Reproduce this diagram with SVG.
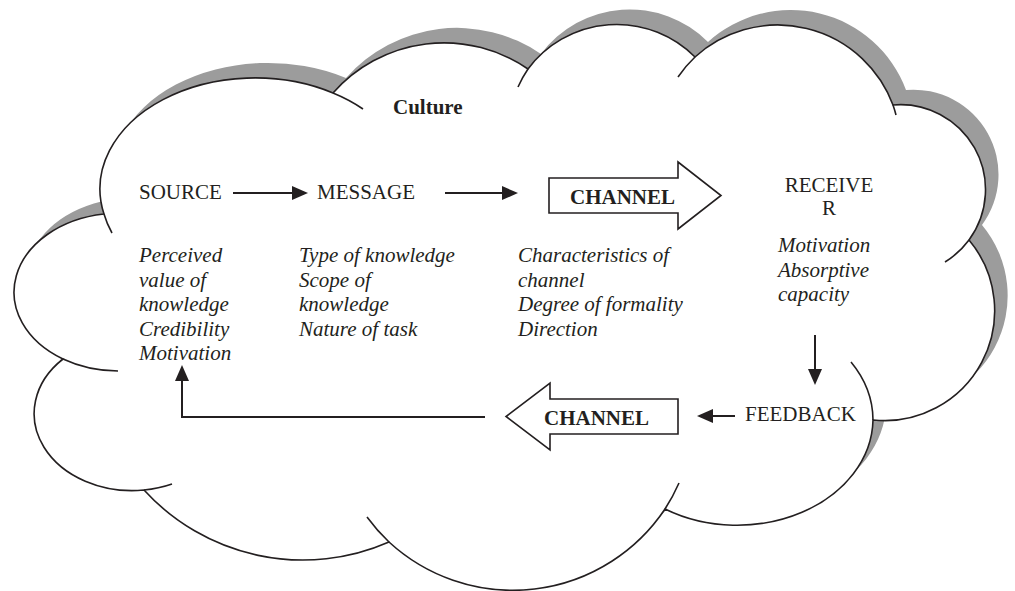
<svg xmlns="http://www.w3.org/2000/svg" width="1015" height="591" viewBox="0 0 1015 591">
  <defs>
    <marker id="head" viewBox="0 0 16 14" refX="12" refY="7" markerWidth="16" markerHeight="14" markerUnits="userSpaceOnUse" orient="auto">
      <path d="M0,0 L16,7 L0,14 z" fill="#231f20"/>
    </marker>
    <!-- cloud outline: eleven bumps traced counter-clockwise -->
    <path id="cloudShape" d="M333,93 A155,111 0 0 0 104,214 A105,79 0 0 0 63,359 A98,77 0 0 0 144,490 A215,215 0 0 0 389,542 A183,183 0 0 0 665,509 A136,107 0 0 0 873,420 A110,110 0 0 0 969,240 A85,85 0 0 0 893,105 A123,123 0 0 0 695,57 A110.5,110.5 0 0 0 528,69 A148,148 0 0 0 333,93 Z"/>
  </defs>
  <style>
    .t{font-family:"Liberation Serif","Times New Roman",serif;font-size:21px;fill:#231f20}
    .i{font-style:italic}
    .b{font-weight:bold}
    .edge{stroke:#231f20;stroke-width:2;fill:none}
    .outline{fill:#fff;stroke:#231f20;stroke-width:1.6}
    .hint{fill:none;stroke:#231f20;stroke-width:1.6}
    .block{fill:#fff;stroke:#231f20;stroke-width:1.6;stroke-linejoin:miter}
  </style>
  <rect width="1015" height="591" fill="#fff"/>

  <g id="culture">
    <use href="#cloudShape" transform="translate(13,-15)" fill="#9c9c9c"/>
    <use href="#cloudShape" class="outline"/>
    <!-- inner tails of the bump arcs -->
    <path class="hint" d="M333,93 A155,111 0 0 1 363,109 M104,214 A155,111 0 0 0 112,233 M63,359 A105,79 0 0 0 118,371 M144,490 A98,77 0 0 0 172,484 M389,542 A183,183 0 0 1 367,517 M665,509 A183,183 0 0 0 679,483 M873,420 A136,107 0 0 0 851,362 M969,240 A85,85 0 0 1 945,262 M893,105 A123,123 0 0 1 896,115 M695,57 A123,123 0 0 0 678,77 M528,69 A110.5,110.5 0 0 0 518,87"/>
    <text class="t b" x="393" y="114">Culture</text>
  </g>

  <g id="source">
    <text class="t" x="139" y="199">SOURCE</text>
    <text class="t i" x="139" y="262">Perceived<tspan x="139" dy="24.5">value of</tspan><tspan x="139" dy="24.5">knowledge</tspan><tspan x="139" dy="24.5">Credibility</tspan><tspan x="139" dy="24.5">Motivation</tspan></text>
  </g>

  <g id="message">
    <text class="t" x="317" y="199">MESSAGE</text>
    <text class="t i" x="299" y="262">Type of knowledge<tspan x="299" dy="24.5">Scope of</tspan><tspan x="299" dy="24.5">knowledge</tspan><tspan x="299" dy="24.5">Nature of task</tspan></text>
  </g>

  <g id="channel-out">
    <polygon class="block" points="549,178 678,178 678,162 721,195.5 678,229 678,213 549,213"/>
    <text class="t b" x="570" y="204">CHANNEL</text>
    <text class="t i" x="518" y="262">Characteristics of<tspan x="518" dy="24.5">channel</tspan><tspan x="518" dy="24.5">Degree of formality</tspan><tspan x="518" dy="24.5">Direction</tspan></text>
  </g>

  <g id="receiver">
    <text class="t" x="829" y="192" text-anchor="middle">RECEIVE<tspan x="829" dy="23">R</tspan></text>
    <text class="t i" x="778" y="252">Motivation<tspan x="778" dy="24.5">Absorptive</tspan><tspan x="778" dy="24.5">capacity</tspan></text>
  </g>

  <g id="feedback">
    <text class="t" x="745" y="421">FEEDBACK</text>
  </g>

  <g id="channel-back">
    <polygon class="block" points="678,399 550,399 550,383 506,416.5 550,450 550,434 678,434"/>
    <text class="t b" x="544" y="425">CHANNEL</text>
  </g>

  <g id="connectors">
    <line class="edge" x1="233" y1="193" x2="304" y2="193" marker-end="url(#head)"/>
    <line class="edge" x1="445" y1="193" x2="514" y2="193" marker-end="url(#head)"/>
    <line class="edge" x1="815" y1="335" x2="815" y2="381" marker-end="url(#head)"/>
    <line class="edge" x1="735" y1="416" x2="701" y2="416" marker-end="url(#head)"/>
    <polyline class="edge" points="485,417 182,417 182,369" marker-end="url(#head)"/>
  </g>
</svg>
